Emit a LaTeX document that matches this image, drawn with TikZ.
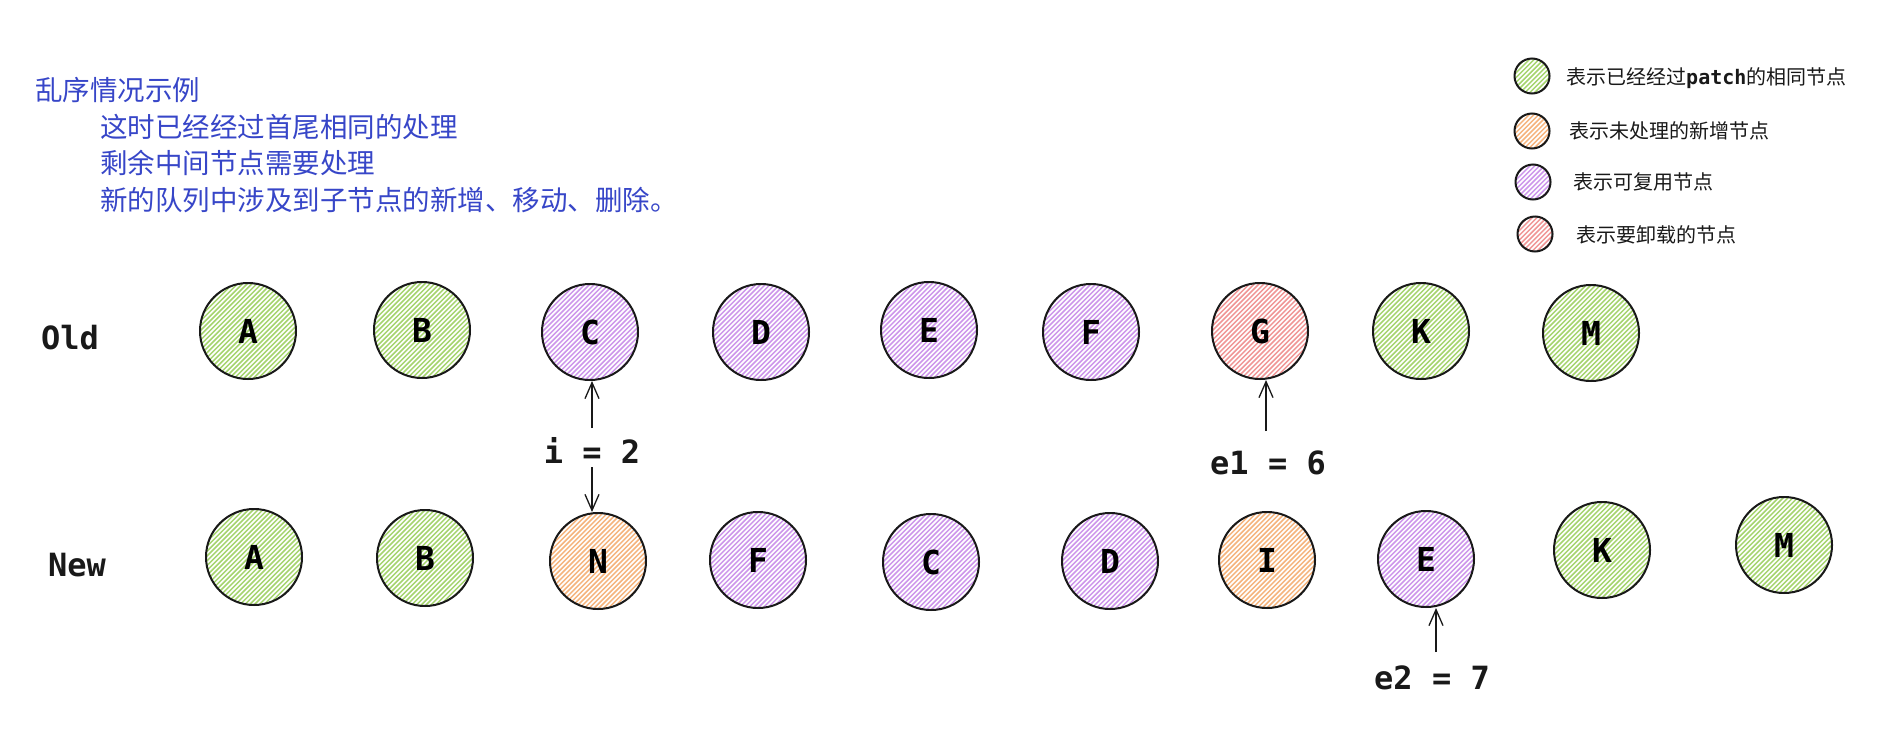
\documentclass[tikz,border=0pt]{standalone}
\usepackage{fontspec}
\setmainfont{DejaVu Sans Mono}
\newfontfamily\cjk{Noto Sans CJK SC}
\newfontfamily\monob{DejaVu Sans Mono}
\usetikzlibrary{arrows.meta}
\definecolor{ink}{RGB}{25,25,25}
\definecolor{hgreen}{RGB}{165,212,110}
\definecolor{hpurple}{RGB}{205,150,235}
\definecolor{horange}{RGB}{245,180,125}
\definecolor{hred}{RGB}{240,150,150}
\definecolor{titleblue}{RGB}{55,70,200}
\begin{document}
\begin{tikzpicture}[x=1pt,y=-1pt,
  base/.style={circle,draw=ink,line width=2pt,inner sep=0pt},
  nd/.style={base,minimum size=96pt,font=\monob\bfseries\fontsize{33}{33}\selectfont,text=black},
  lg/.style={base,minimum size=35pt},
  hatch/.style={path picture={
    \foreach \k in {-72,-67.2,...,72}
      \draw[line width=1.5pt,draw=#1] ([shift={(\k-60,60)}]path picture bounding box.center) -- ++(120,-120);}},
  hgr/.style={hatch=hgreen},
  hpu/.style={hatch=hpurple},
  hor/.style={hatch=horange},
  hre/.style={hatch=hred},
  lab/.style={font=\monob\bfseries\fontsize{32}{32}\selectfont,text=ink,inner sep=0pt},
  ltxt/.style={anchor=west,inner sep=0pt,font=\cjk\fontsize{20}{24}\selectfont,text=ink},
  ttl/.style={anchor=west,inner sep=0pt,font=\cjk\fontsize{27.5}{30}\selectfont,text=titleblue},
  arr/.style={draw=ink,line width=1.3pt,-{Straight Barb[length=16pt,width=14pt,line width=1.3pt]}},
]
\useasboundingbox (0,0) rectangle (1878,728);
\fill[white] (0,0) rectangle (1878,728);

% title text
\node[ttl] (t0) at (35,90) {乱序情况示例};
\node[ttl] (t1) at (100,127) {这时已经经过首尾相同的处理};
\node[ttl] (t2) at (100,163) {剩余中间节点需要处理};
\node[ttl] (t3) at (100,200) {新的队列中涉及到子节点的新增、移动、删除。};

% legend
\node[lg,hgr] (lg1) at (1532,76) {};
\node[lg,hor] (lg2) at (1532,131) {};
\node[lg,hpu] (lg3) at (1533,182) {};
\node[lg,hre] (lg4) at (1535,234) {};
\node[ltxt] (lt1) at (1566,78) {表示已经经过{\monob\bfseries patch}的相同节点};
\node[ltxt] (lt2) at (1569,131) {表示未处理的新增节点};
\node[ltxt] (lt3) at (1573,182) {表示可复用节点};
\node[ltxt] (lt4) at (1576,235) {表示要卸载的节点};

% row labels
\node[lab] (old) at (70,338) {Old};
\node[lab] (new) at (77,565) {New};

% old row
\node[nd,hgr] (oA) at (248,331) {A};
\node[nd,hgr] (oB) at (422,330) {B};
\node[nd,hpu] (oC) at (590,332) {C};
\node[nd,hpu] (oD) at (761,332) {D};
\node[nd,hpu] (oE) at (929,330) {E};
\node[nd,hpu] (oF) at (1091,332) {F};
\node[nd,hre] (oG) at (1260,331) {G};
\node[nd,hgr] (oK) at (1421,331) {K};
\node[nd,hgr] (oM) at (1591,333) {M};

% new row
\node[nd,hgr] (nA) at (254,557) {A};
\node[nd,hgr] (nB) at (425,558) {B};
\node[nd,hor] (nN) at (598,561) {N};
\node[nd,hpu] (nF) at (758,560) {F};
\node[nd,hpu] (nC) at (931,562) {C};
\node[nd,hpu] (nD) at (1110,561) {D};
\node[nd,hor] (nI) at (1267,560) {I};
\node[nd,hpu] (nE) at (1426,559) {E};
\node[nd,hgr] (nK) at (1602,550) {K};
\node[nd,hgr] (nM) at (1784,545) {M};

% pointers
\node[lab] (iv) at (592,450) {i = 2};
\node[lab] (e1) at (1268,463) {e1 = 6};
\node[lab] (e2) at (1432,678) {e2 = 7};

\coordinate (iup) at (592,428);
\coordinate (idn) at (592,467);
\coordinate (e1s) at (1266,431);
\coordinate (e2s) at (1436,652);
\draw[arr] (iup) -- (iup |- oC.south);
\draw[arr] (idn) -- (idn |- nN.north);
\draw[arr] (e1s) -- (e1s |- oG.south);
\draw[arr] (e2s) -- (e2s |- nE.south);
\end{tikzpicture}
\end{document}
